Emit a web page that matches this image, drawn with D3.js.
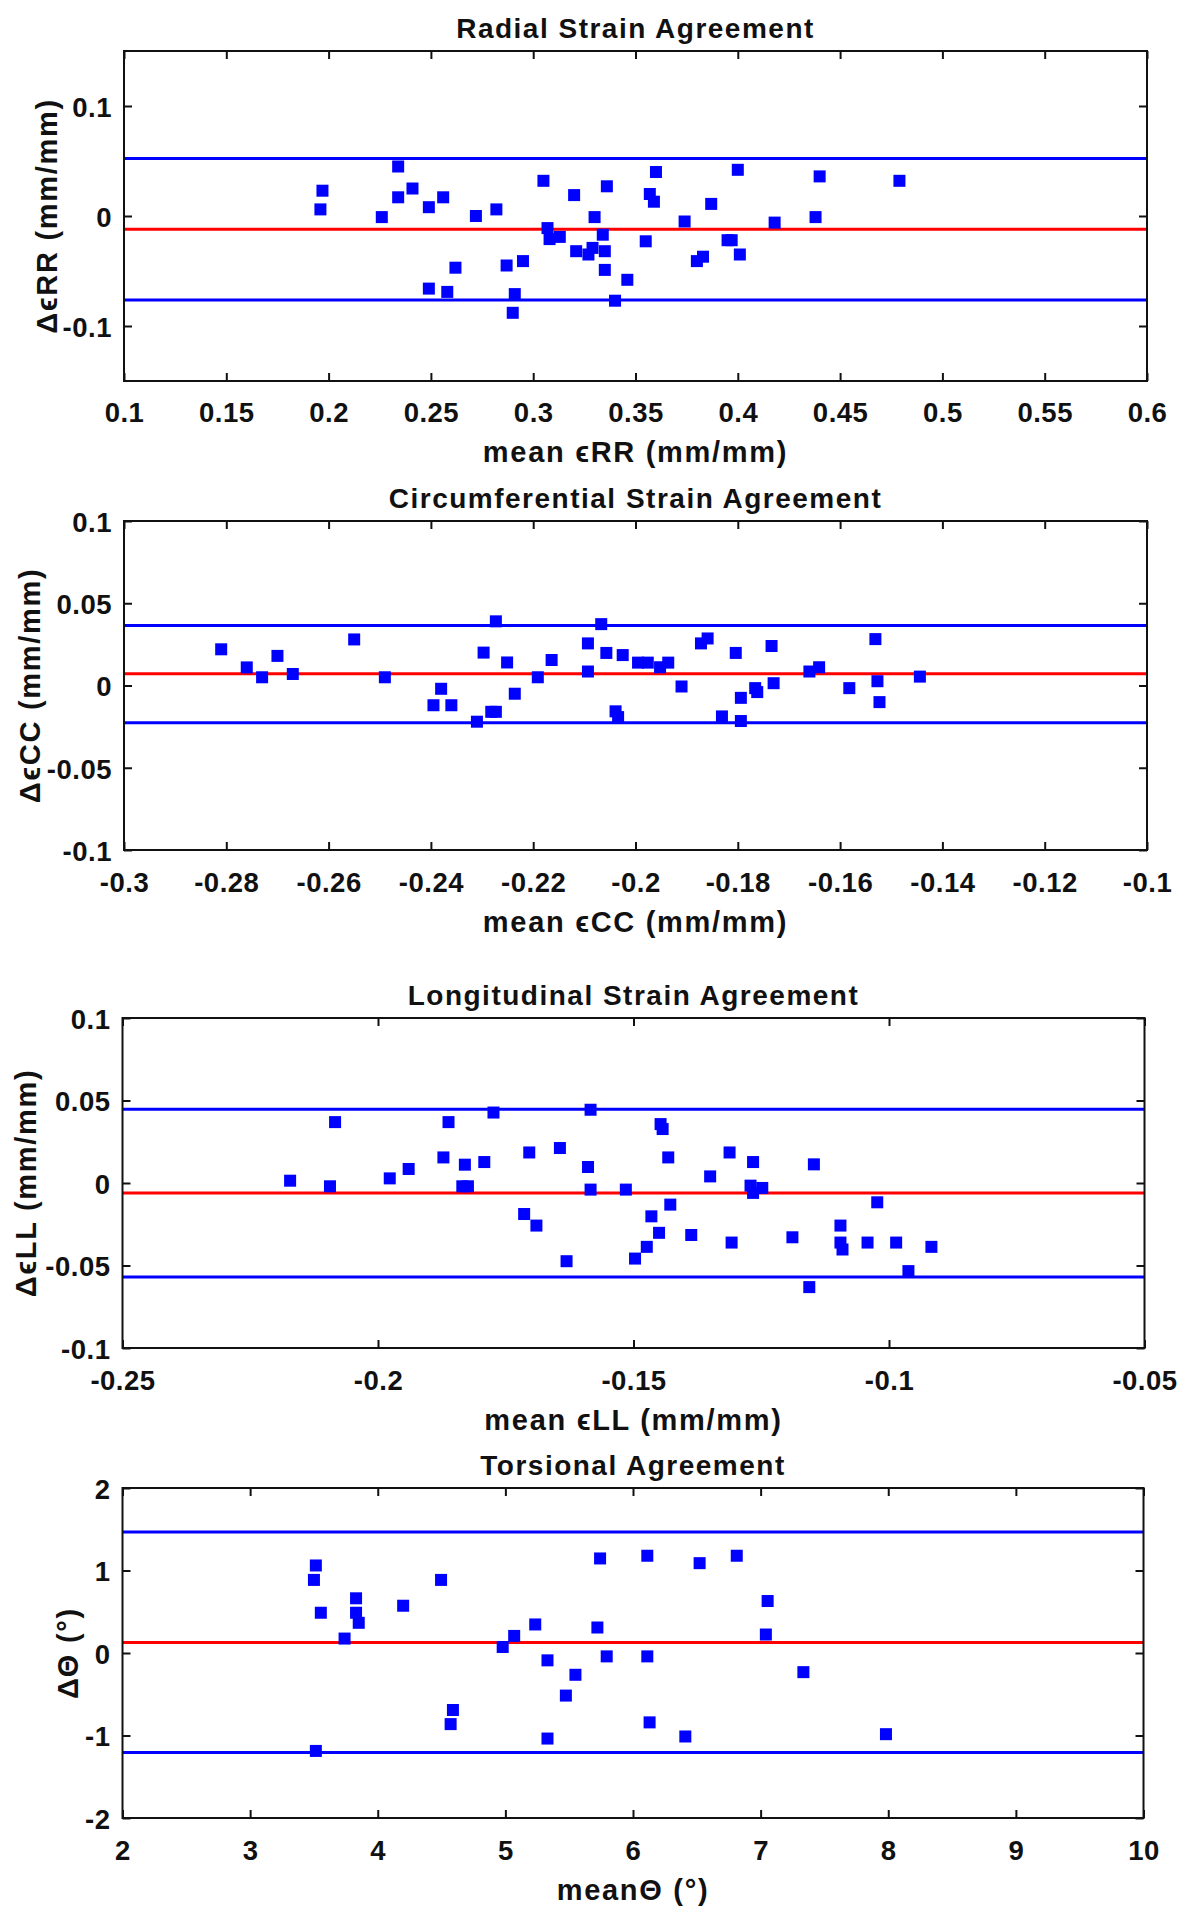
<!DOCTYPE html>
<html>
<head>
<meta charset="utf-8">
<script src="https://cdn.jsdelivr.net/npm/d3@7"></script>
<style>
  html, body { margin: 0; padding: 0; background: #fff; }
  svg { display: block; }
  text { font-family: "Liberation Sans", Arial, sans-serif; font-weight: bold; fill: #111; }
</style>
</head>
<body>
<svg id="chart" width="1187" height="1920"></svg>
<script>
// ---------------- DATA ----------------
const titles = ["Radial Strain Agreement", "Circumferential Strain Agreement", "Longitudinal Strain Agreement", "Torsional Agreement"];
const xLabels = ["mean \u03F5RR (mm/mm)", "mean \u03F5CC (mm/mm)", "mean \u03F5LL (mm/mm)", "mean\u0398 (\u00B0)"];
const yLabels = ["\u0394\u03F5RR (mm/mm)", "\u0394\u03F5CC (mm/mm)", "\u0394\u03F5LL (mm/mm)", "\u0394\u0398 (\u00B0)"];

// Radial strain: mean vs difference
const rrMean = [0.196,0.197,0.226,0.234,0.234,0.241,0.249,0.256,0.249,0.258,0.262,0.272,0.282,0.287,0.295,0.291,0.290,0.305,0.307,0.308,0.313,0.320,0.321,0.327,0.329,0.330,0.334,0.335,0.335,0.336,0.340,0.346,0.355,0.357,0.359,0.360,0.374,0.380,0.383,0.387,0.395,0.397,0.400,0.401,0.418,0.438,0.440,0.479];
const rrDiff = [0.006,0.023,-0.001,0.045,0.017,0.025,0.008,0.017,-0.066,-0.069,-0.047,0.000,0.006,-0.045,-0.041,-0.071,-0.088,0.032,-0.011,-0.021,-0.019,0.019,-0.032,-0.035,-0.029,-0.001,-0.017,-0.032,-0.049,0.027,-0.077,-0.058,-0.023,0.020,0.013,0.040,-0.005,-0.041,-0.037,0.011,-0.022,-0.022,0.042,-0.035,-0.006,-0.001,0.036,0.032];
const rrLimits = [0.0523, -0.012, -0.0763]; // upper LoA, bias, lower LoA

// Circumferential strain
const ccMean = [-0.281,-0.276,-0.273,-0.270,-0.267,-0.255,-0.249,-0.2395,-0.238,-0.236,-0.231,-0.2297,-0.2282,-0.2273,-0.2273,-0.2251,-0.2236,-0.2191,-0.2164,-0.2093,-0.2093,-0.2067,-0.2057,-0.2025,-0.2039,-0.2034,-0.1995,-0.1976,-0.1952,-0.1936,-0.191,-0.1872,-0.1859,-0.1831,-0.1804,-0.1794,-0.1794,-0.1766,-0.1762,-0.1734,-0.173,-0.166,-0.1641,-0.1582,-0.1531,-0.1527,-0.1523,-0.1444];
const ccDiff = [0.022,0.011,0.005,0.018,0.007,0.028,0.005,-0.012,-0.002,-0.012,-0.022,0.020,-0.016,-0.016,0.039,0.014,-0.005,0.005,0.0155,0.0256,0.0085,0.0373,0.0198,0.0185,-0.0157,-0.0192,0.0139,0.0139,0.0111,0.0139,-0.0006,0.0256,0.0286,-0.0188,0.0198,-0.0075,-0.0216,-0.0016,-0.004,0.024,0.0014,0.0085,0.0111,-0.0016,0.0282,0.0026,-0.0101,0.0054];
const ccLimits = [0.0365, 0.0071, -0.0227];

// Longitudinal strain
const llMean = [-0.2172,-0.2094,-0.2084,-0.1977,-0.194,-0.1872,-0.1862,-0.183,-0.1835,-0.1824,-0.1792,-0.1774,-0.1714,-0.1704,-0.169,-0.1644,-0.1631,-0.1589,-0.1584,-0.1584,-0.1515,-0.1497,-0.1474,-0.1465,-0.145,-0.1447,-0.1443,-0.1432,-0.1428,-0.1387,-0.135,-0.1312,-0.1308,-0.1271,-0.1266,-0.1266,-0.1248,-0.1189,-0.1156,-0.1147,-0.1095,-0.1095,-0.1091,-0.1042,-0.1023,-0.0986,-0.0962,-0.0917];
const llDiff = [0.0014,-0.002,0.0369,0.0028,0.0085,0.0155,0.0369,0.0111,-0.002,-0.002,0.0127,0.0427,-0.0188,0.0185,-0.0258,0.0212,-0.0474,0.0097,0.0444,-0.004,-0.004,-0.0458,-0.0387,-0.0202,-0.0302,0.0357,0.0327,0.0155,-0.0131,-0.0315,0.004,0.0185,-0.0361,-0.0016,0.0127,-0.006,-0.003,-0.0329,-0.0631,0.0113,-0.0258,-0.0361,-0.0403,-0.0361,-0.0117,-0.0361,-0.0534,-0.0387];
const llLimits = [0.0447, -0.006, -0.057];

// Torsion
const thMean = [3.50,3.515,3.554,3.515,3.74,3.83,3.83,3.851,4.199,4.496,4.571,4.589,4.979,5.069,5.234,5.33,5.33,5.474,5.549,5.742,5.721,5.794,6.112,6.112,6.13,6.41,6.522,6.813,7.055,7.041,7.335,7.982];
const thDiff = [0.886,1.061,0.488,-1.187,0.175,0.663,0.488,0.366,0.573,0.886,-0.862,-0.691,0.073,0.207,0.346,-0.089,-1.037,-0.516,-0.264,1.146,0.309,-0.041,1.179,-0.041,-0.841,-1.012,1.089,1.179,0.63,0.224,-0.232,-0.984];
const thLimits = [1.467, 0.126, -1.207];

// Axis ranges and ticks
const xDomains = [[0.1, 0.6], [-0.3, -0.1], [-0.25, -0.05], [2, 10]];
const yDomains = [[-0.15, 0.15], [-0.1, 0.1], [-0.1, 0.1], [-2, 2]];
const xTicks = [
  [0.1,0.15,0.2,0.25,0.3,0.35,0.4,0.45,0.5,0.55,0.6],
  [-0.3,-0.28,-0.26,-0.24,-0.22,-0.2,-0.18,-0.16,-0.14,-0.12,-0.1],
  [-0.25,-0.2,-0.15,-0.1,-0.05],
  [2,3,4,5,6,7,8,9,10]
];
const yTicks = [
  [-0.1,0,0.1],
  [-0.1,-0.05,0,0.05,0.1],
  [-0.1,-0.05,0,0.05,0.1],
  [-2,-1,0,1,2]
];

// ---------------- LAYOUT ----------------
const layout = [
  {left:124, right:1147, top:51,   bottom:381,  titleY:38,   tickY:41, xLabY:462,  yLabX:57},
  {left:124, right:1147, top:521,  bottom:850,  titleY:508,  tickY:42, xLabY:932,  yLabX:40},
  {left:122.5, right:1144.5, top:1018, bottom:1348, titleY:1005, tickY:42, xLabY:1430, yLabX:36},
  {left:122.5, right:1143.5, top:1488, bottom:1818, titleY:1475, tickY:42, xLabY:1900, yLabX:78}
];

const series = [
  {mean: rrMean, diff: rrDiff, lim: rrLimits},
  {mean: ccMean, diff: ccDiff, lim: ccLimits},
  {mean: llMean, diff: llDiff, lim: llLimits},
  {mean: thMean, diff: thDiff, lim: thLimits}
];

const svg = d3.select("#chart");
const BLUE = "#0000FF", RED = "#FF0000";
const tickLen = 8, markerSize = 12;

series.forEach((s, i) => {
  const L = layout[i];
  const x = d3.scaleLinear().domain(xDomains[i]).range([L.left, L.right]);
  const y = d3.scaleLinear().domain(yDomains[i]).range([L.bottom, L.top]);
  const g = svg.append("g");

  // limit lines
  const limColors = [BLUE, RED, BLUE];
  g.selectAll("line.lim").data(s.lim).enter().append("line")
    .attr("x1", x(xDomains[i][0])).attr("x2", x(xDomains[i][1]))
    .attr("y1", d => y(d)).attr("y2", d => y(d))
    .attr("stroke", (d, k) => limColors[k]).attr("stroke-width", 3);

  // points
  const pts = s.mean.map((m, k) => ({m, d: s.diff[k]}));
  g.selectAll("rect.pt").data(pts).enter().append("rect")
    .attr("x", p => x(p.m) - markerSize / 2)
    .attr("y", p => y(p.d) - markerSize / 2)
    .attr("width", markerSize).attr("height", markerSize)
    .attr("fill", BLUE);

  // axes (ticks inward on all four sides)
  const fmt = v => String(v);
  const axB = g.append("g").attr("transform", `translate(0,${L.bottom})`)
    .call(d3.axisBottom(x).tickValues(xTicks[i]).tickFormat(fmt).tickSize(-tickLen).tickSizeOuter(0));
  axB.selectAll("text").attr("y", L.tickY).attr("dy", null);
  const axT = g.append("g").attr("transform", `translate(0,${L.top})`)
    .call(d3.axisTop(x).tickValues(xTicks[i]).tickFormat("").tickSize(-tickLen).tickSizeOuter(0));
  const axL = g.append("g").attr("transform", `translate(${L.left},0)`)
    .call(d3.axisLeft(y).tickValues(yTicks[i]).tickFormat(fmt).tickSize(-tickLen).tickPadding(12).tickSizeOuter(0));
  axL.selectAll("text").attr("dy", "0.38em");
  const axR = g.append("g").attr("transform", `translate(${L.right},0)`)
    .call(d3.axisRight(y).tickValues(yTicks[i]).tickFormat("").tickSize(-tickLen).tickSizeOuter(0));
  [axB, axT, axL, axR].forEach(a => {
    a.select(".domain").remove();
    a.selectAll("line").attr("stroke", "#111").attr("stroke-width", 2);
    a.selectAll("text").attr("fill", "#111").attr("font-family", null).attr("font-size", null)
      .style("font-size", "27.5px").style("letter-spacing", "0.5px");
  });

  // frame
  g.append("rect").attr("x", L.left).attr("y", L.top)
    .attr("width", L.right - L.left).attr("height", L.bottom - L.top)
    .attr("fill", "none").attr("stroke", "#111").attr("stroke-width", 2);

  // title
  const cx = (L.left + L.right) / 2;
  g.append("text").attr("x", cx).attr("y", L.titleY).attr("text-anchor", "middle")
    .style("font-size", "28px").style("letter-spacing", "1.5px").text(titles[i]);
  // x label
  g.append("text").attr("x", cx).attr("y", L.xLabY).attr("text-anchor", "middle")
    .style("font-size", "29px").style("letter-spacing", "1.7px").text(xLabels[i]);
  // y label
  const cy = (L.top + L.bottom) / 2;
  g.append("text").attr("transform", `translate(${L.yLabX},${cy}) rotate(-90)`)
    .attr("text-anchor", "middle")
    .style("font-size", "29px").style("letter-spacing", "1.7px").text(yLabels[i]);
});
</script>
</body>
</html>
